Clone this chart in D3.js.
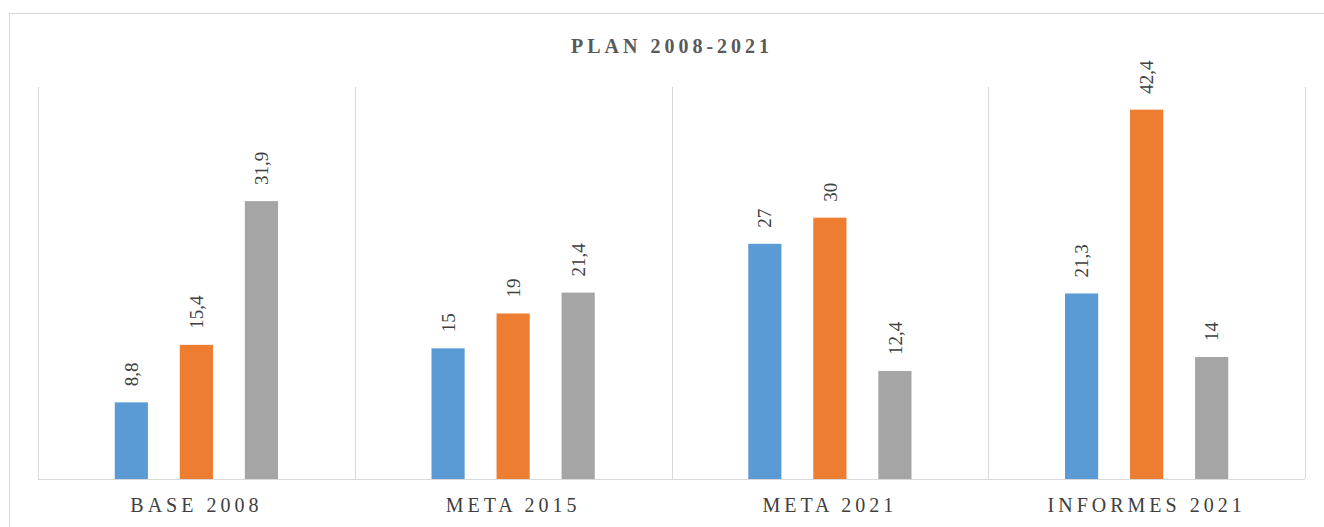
<!DOCTYPE html>
<html>
<head>
<meta charset="utf-8">
<script src="https://cdn.jsdelivr.net/npm/d3@7"></script>
<style>
  html, body { margin: 0; padding: 0; background: #fff; }
  svg { display: block; }
  svg text { font-family: "Liberation Serif", "Times New Roman", serif; }
</style>
</head>
<body>
<svg id="chart" width="1324" height="527"></svg>
<script>
const title = "PLAN 2008-2021";
const categories = ["BASE 2008", "META 2015", "META 2021", "INFORMES 2021"];
const seriesNames = ["Serie 1", "Serie 2", "Serie 3"];
const serie1 = [8.8, 15, 27, 21.3];
const serie2 = [15.4, 19, 30, 42.4];
const serie3 = [31.9, 21.4, 12.4, 14];
const valueLabels1 = ["8,8", "15", "27", "21,3"];
const valueLabels2 = ["15,4", "19", "30", "42,4"];
const valueLabels3 = ["31,9", "21,4", "12,4", "14"];
const colors = ["#5B9BD5", "#ED7D31", "#A5A5A5"];

const seriesValues = [serie1, serie2, serie3];
const seriesLabels = [valueLabels1, valueLabels2, valueLabels3];
const FONT = '"Liberation Serif", "Times New Roman", serif';

const svg = d3.select("#chart");
const plot = { left: 38, right: 1305, top: 87, bottom: 479 };

// outer chart border
svg.append("rect")
  .attr("x", 9.5).attr("y", 13.5)
  .attr("width", 1330).attr("height", 540)
  .attr("fill", "#fff").attr("stroke", "#D9D9D9").attr("stroke-width", 1);

const x0 = d3.scaleBand().domain(categories).range([plot.left, plot.right]).padding(0);
const x1 = d3.scaleBand().domain(d3.range(3)).range([0, x0.bandwidth()])
  .paddingInner(0.49).paddingOuter(1.18);
const y = d3.scaleLinear().domain([0, 45]).range([plot.bottom, plot.top]);

// category separators
const bounds = categories.map(c => x0(c)).concat([plot.right]);
svg.append("g").selectAll("line").data(bounds).join("line")
  .attr("x1", d => Math.round(d) + 0.5).attr("x2", d => Math.round(d) + 0.5)
  .attr("y1", plot.top).attr("y2", plot.bottom)
  .attr("stroke", "#D9D9D9").attr("stroke-width", 1);

// bars
const data = [];
categories.forEach((c, i) => {
  seriesValues.forEach((s, j) => {
    data.push({ cat: c, s: j, v: s[i], label: seriesLabels[j][i] });
  });
});

const g = svg.append("g");
g.selectAll("rect.bar").data(data).join("rect")
  .attr("class", "bar")
  .attr("x", d => x0(d.cat) + x1(d.s))
  .attr("width", x1.bandwidth())
  .attr("y", d => y(d.v))
  .attr("height", d => y(0) - y(d.v))
  .attr("fill", d => colors[d.s]);

// value labels (rotated)
g.selectAll("text.val").data(data).join("text")
  .attr("class", "val")
  .attr("transform", d => `translate(${x0(d.cat) + x1(d.s) + x1.bandwidth() / 2},${y(d.v) - 16}) rotate(-90)`)
  .attr("dy", "0.35em")
  .attr("text-anchor", "start")
  .style("font-family", FONT)
  .style("font-size", "19px")
  .attr("fill", "#404040")
  .text(d => d.label);

// baseline axis
const xAxis = d3.axisBottom(x0).tickSize(0).tickPadding(0);
const ax = svg.append("g").attr("transform", `translate(0,${plot.bottom + 0.5})`).call(xAxis)
  .attr("font-family", null);
ax.select(".domain").attr("stroke", "#D9D9D9").attr("d", `M${plot.left},0H${plot.right}`);
ax.selectAll("text")
  .attr("y", 32).attr("dy", 0)
  .style("font-family", FONT)
  .style("font-size", "20px")
  .style("letter-spacing", "4px")
  .attr("fill", "#404040");

// title
svg.append("text")
  .attr("x", 672).attr("y", 53)
  .attr("text-anchor", "middle")
  .style("font-family", FONT)
  .style("font-weight", "bold")
  .style("font-size", "20px")
  .style("letter-spacing", "4px")
  .attr("fill", "#595959")
  .text(title);
</script>
</body>
</html>
